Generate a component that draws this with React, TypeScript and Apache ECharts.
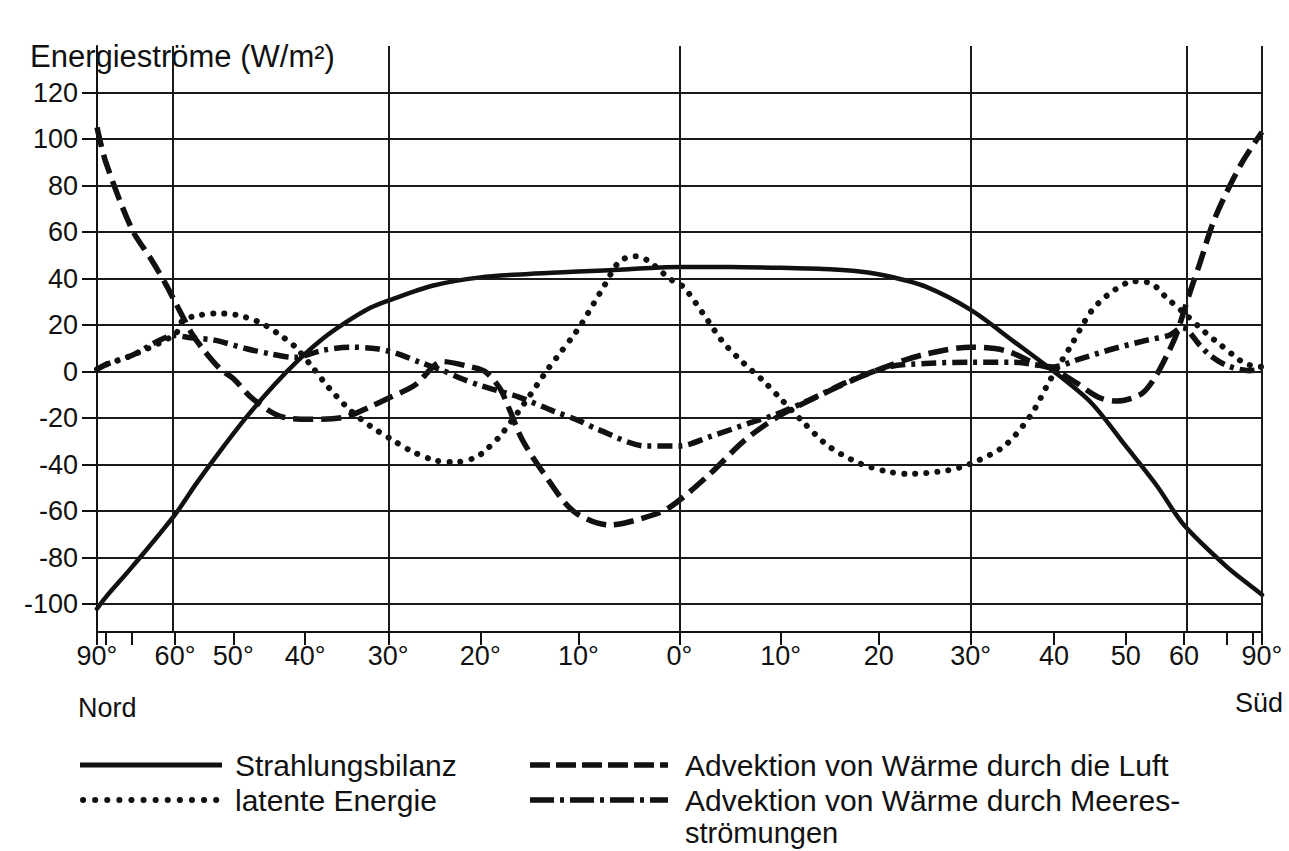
import React, { useEffect, useRef } from "react";
import * as echarts from "echarts";

// ---- axis definitions ----
// latitude: negative = Nord (left), positive = Süd (right); x position = sin(latitude)
const yTickValues = [-100, -80, -60, -40, -20, 0, 20, 40, 60, 80, 100, 120];
const xTickLatitudes = [-90, -80, -70, -60, -50, -40, -30, -20, -10, 0, 10, 20, 30, 40, 50, 60, 70, 80, 90];
const xLabelLatitudes = [-90, -60, -50, -40, -30, -20, -10, 0, 10, 20, 30, 40, 50, 60, 90];
const xLabelTexts = ["90°", "60°", "50°", "40°", "30°", "20°", "10°", "0°", "10°", "20", "30°", "40", "50", "60", "90°"];
const meridianLatitudes = [-60, -30, 0, 30, 60, 90];

// ---- series: Strahlungsbilanz (solid) ----
const strahlungLat = [-90, -80, -70, -60, -56, -52, -48, -44, -41, -38, -35, -32, -30, -25, -20, -15, -10, -5, 0, 5, 10, 15, 18, 21, 25, 30, 35, 40, 45, 50, 55, 60, 70, 80, 90];
const strahlungVal = [-102, -97, -84, -61.5, -48, -34, -19.5, -5.5, 4.5, 13.5, 21, 27.5, 30.5, 37, 40.5, 42, 43, 44, 45, 45, 44.6, 44, 43, 41, 36.5, 26.5, 13, 0, -13.5, -32, -49, -66, -84, -93, -96];

// ---- series: Advektion von Wärme durch die Luft (dashed) ----
const luftLat = [-90, -80, -70, -65, -62, -60, -57, -55, -52, -50, -47, -43, -39, -35, -32, -30, -27, -24, -21, -19.5, -18, -17, -15.7, -13.6, -10.5, -6.9, -3.6, -1, 3, 6.3, 9.5, 12.8, 17.3, 21.4, 25, 30, 34, 38, 40, 43, 46, 48.6, 52.4, 54.6, 56.8, 58.5, 60, 61.5, 63.2, 66.8, 74.5, 90];
const luftVal = [105, 90, 61, 48, 38, 30, 17, 10, 1, -3, -12, -19.5, -20.5, -19.5, -15, -11.5, -5.8, 4.3, 2, 0, -7, -16, -29, -43, -60, -66, -63, -58.5, -44, -30, -20, -12.6, -3.7, 3, 7.5, 10.5, 9, 3, 1, -5, -11, -12.7, -9.7, -3, 7, 15.7, 26, 36, 46, 66, 89, 103];

// ---- series: latente Energie (dotted) ----
const latentLat = [-90, -80, -70, -60, -58.5, -56, -53, -49.6, -46, -43, -41.3, -39, -37, -34.5, -32, -29.7, -27.5, -25, -22.7, -20.5, -19.5, -18, -15.5, -13, -12, -10.4, -9.7, -7.5, -5.9, -4.3, -3, -1, 0.4, 2.4, 4.3, 6.3, 8.2, 10.2, 12.2, 14.8, 17.9, 20.9, 23.1, 27.4, 30, 33.9, 37.1, 39.5, 42.2, 45, 47.8, 51.2, 54, 56.8, 59.7, 64.4, 68.4, 72, 76.4, 90];
const latentVal = [1, 3, 7, 16, 22, 24, 25, 24.4, 21, 15, 10.7, 1.6, -7, -16.4, -23.6, -29, -34, -38, -39, -37, -34, -28, -14, 1.4, 7, 16, 20.4, 36.3, 47.4, 49.6, 47.4, 40, 36.3, 24.4, 12.6, 3.7, -3.7, -12.6, -21.5, -32, -39.3, -43, -44, -42.5, -39.6, -32, -18.7, -3.7, 11, 26, 34, 38.8, 38, 31.6, 25.8, 17, 11.3, 7, 3.3, 2];

// ---- series: Advektion von Wärme durch Meeresströmungen (dash-dot) ----
const meerLat = [-90, -80, -70, -60, -57, -53, -48, -44.6, -41.3, -37.8, -34.5, -31.3, -28.9, -26.5, -24, -22, -20, -16, -12.5, -10, -8, -3.3, 0, 3, 7, 9.5, 13, 17, 21, 25, 30, 35, 40, 43, 48, 53.4, 57.3, 59.7, 63.3, 65.6, 70, 78, 90];
const meerVal = [1, 3, 7, 15.5, 14.5, 13.5, 9.8, 7.6, 6.1, 9.1, 10.5, 9.8, 7.6, 4, 0.5, -3, -6, -11, -17, -21, -25, -32, -32, -28, -22, -18.5, -12, -4, 2, 3.5, 4, 4, 2, 5, 9.7, 13.5, 15.7, 19, 11.3, 7, 2.6, 0.4, 1];

const legendLabels = [
  "Strahlungsbilanz",
  "latente Energie",
  "Advektion von Wärme durch die Luft",
  "Advektion von Wärme durch Meeres-",
  "strömungen",
];
const yAxisTitle = "Energieströme (W/m²)";

const DEG = Math.PI / 180;
const toX = (lat: number) => Math.sin(lat * DEG);
const pairs = (lats: number[], vals: number[]) => lats.map((l, i) => [toX(l), vals[i]]);

const FONT = '"Liberation Sans", Arial, Helvetica, sans-serif';
const INK = "#111";

const DASHED = [20, 8];
const DOTTED = [0.1, 11];
const DASHDOT = [15, 6, 4, 6];

export default function App() {
  const ref = useRef<HTMLDivElement>(null);

  useEffect(() => {
    if (!ref.current) return;
    const chart = echarts.init(ref.current, null, { renderer: "svg" });

    const curve = (name: string, data: number[][], type: any, width: number, cap: string) => ({
      name,
      type: "line",
      data,
      smooth: 0.3,
      showSymbol: false,
      symbol: "none",
      z: 3,
      silent: true,
      lineStyle: { color: INK, width, type, cap },
    });

    const legendLine = (x1: number, x2: number, y: number, dash: number[] | null, cap: string, w: number) => ({
      type: "line",
      shape: { x1, y1: y, x2, y2: y },
      style: { stroke: INK, lineWidth: w, lineDash: dash || undefined, lineCap: cap },
    });
    const txt = (x: number, y: number, text: string, size: number, align = "left") => ({
      type: "text",
      x,
      y,
      style: { text, fill: INK, fontSize: size, fontFamily: FONT, align, verticalAlign: "middle" },
    });

    chart.setOption({
      animation: false,
      backgroundColor: "#fff",
      grid: { left: 97, right: 27, top: 46, bottom: 219, containLabel: false },
      xAxis: {
        type: "value",
        min: -1,
        max: 1,
        axisLine: { show: true, onZero: false, lineStyle: { color: INK, width: 2 } },
        axisTick: {
          show: true,
          length: 13,
          customValues: xTickLatitudes.map(toX),
          lineStyle: { color: INK, width: 2 },
        },
        axisLabel: {
          customValues: xLabelLatitudes.map(toX),
          showMinLabel: true,
          showMaxLabel: true,
          hideOverlap: false,
          margin: 10,
          color: INK,
          fontSize: 27,
          fontFamily: FONT,
          formatter: (v: number) => {
            const lat = Math.round(Math.asin(Math.max(-1, Math.min(1, v))) / DEG);
            const i = xLabelLatitudes.indexOf(lat);
            return i >= 0 ? xLabelTexts[i] : "";
          },
        },
        splitLine: { show: false },
      },
      yAxis: {
        type: "value",
        min: -112,
        max: 140,
        axisLine: { show: true, onZero: false, lineStyle: { color: INK, width: 2 } },
        axisTick: { show: true, length: 15, customValues: yTickValues, lineStyle: { color: INK, width: 2 } },
        axisLabel: {
          customValues: yTickValues,
          margin: 19,
          color: INK,
          fontSize: 27,
          fontFamily: FONT,
        },
        splitLine: { show: false },
      },
      series: [
        {
          type: "line",
          data: [[0, 0]],
          showSymbol: false,
          symbol: "none",
          silent: true,
          z: 1,
          lineStyle: { opacity: 0 },
          markLine: {
            silent: true,
            symbol: ["none", "none"],
            label: { show: false },
            emphasis: { disabled: true },
            lineStyle: { color: "#1a1a1a", width: 2, type: "solid" },
            data: [
              ...yTickValues.map((v) => ({ yAxis: v })),
              ...meridianLatitudes.map((l) => ({ xAxis: toX(l) })),
            ],
          },
        },
        curve("Strahlungsbilanz", pairs(strahlungLat, strahlungVal), "solid", 4.5, "round"),
        curve("Advektion von Wärme durch die Luft", pairs(luftLat, luftVal), DASHED, 5.5, "butt"),
        curve("latente Energie", pairs(latentLat, latentVal), DOTTED, 6, "round"),
        curve("Advektion von Wärme durch Meeresströmungen", pairs(meerLat, meerVal), DASHDOT, 5.5, "butt"),
      ],
      graphic: [
        txt(30, 56, yAxisTitle, 31),
        txt(78, 708, "Nord", 27),
        txt(1283, 703, "Süd", 27, "right"),
        legendLine(80, 222, 765, null, "butt", 5),
        legendLine(83, 222, 800, [0.1, 12], "round", 6),
        legendLine(530, 668, 765, [20, 6], "butt", 5.5),
        legendLine(530, 668, 800, [24, 6, 4, 6], "butt", 5.5),
        txt(235, 765, legendLabels[0], 30),
        txt(235, 800, legendLabels[1], 30),
        txt(685, 765, legendLabels[2], 30),
        txt(685, 800, legendLabels[3], 30),
        txt(685, 833, legendLabels[4], 29),
      ],
    });

    return () => chart.dispose();
  }, []);

  return (
    <div
      ref={ref}
      style={{ position: "fixed", left: 0, top: 0, width: 1289, height: 851, background: "#fff" }}
    />
  );
}
